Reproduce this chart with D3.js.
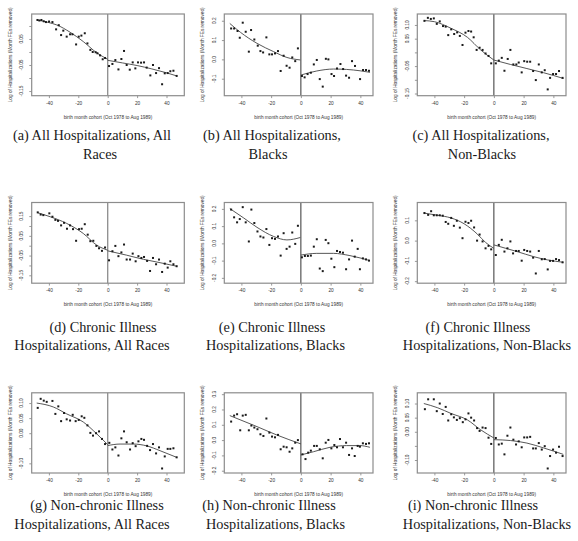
<!DOCTYPE html>
<html><head><meta charset="utf-8">
<script src="https://cdn.jsdelivr.net/npm/d3@7"></script>
<style>body{margin:0;background:#fff}svg{display:block}</style>
</head><body><svg id="c" width="578" height="541"></svg>
<script>
// ---------------- DATA ----------------
const xTickValues = [-40, -20, 0, 20, 40];
const xTitle = "birth month cohort (Oct 1978 to Aug 1989)";
const yTitle = "Log of Hospitalizations (Month FEs removed)";

const captions = [
  ["(a) All Hospitalizations, All", "Races"],
  ["(b) All Hospitalizations,", "Blacks"],
  ["(c) All Hospitalizations,", "Non-Blacks"],
  ["(d) Chronic Illness", "Hospitalizations, All Races"],
  ["(e) Chronic Illness", "Hospitalizations, Blacks"],
  ["(f) Chronic Illness", "Hospitalizations, Non-Blacks"],
  ["(g) Non-chronic Illness", "Hospitalizations, All Races"],
  ["(h) Non-chronic Illness", "Hospitalizations, Blacks"],
  ["(i) Non-chronic Illness", "Hospitalizations, Non-Blacks"]
];

// y domains, ticks and labelled ticks per panel
const yDomainA = [-0.168, 0.146], yTicksA = [-0.15,-0.10,-0.05,0,0.05,0.10], yLabelsA = ["-0.15","-0.05","0.05"];
const yDomainB = [-0.188, 0.235], yTicksB = [-0.1,0,0.1,0.2], yLabelsB = ["-0.1","0.0","0.1","0.2"];
const yDomainC = [-0.158, 0.140], yTicksC = [-0.15,-0.10,-0.05,0,0.05,0.10], yLabelsC = ["-0.15","-0.05","0.05","0.10"];
const yDomainD = [-0.190, 0.219], yTicksD = [-0.15,-0.10,-0.05,0,0.05,0.10,0.15], yLabelsD = ["-0.15","-0.05","0.05","0.15"];
const yDomainE = [-0.231, 0.237], yTicksE = [-0.2,-0.1,0,0.1,0.2], yLabelsE = ["-0.2","-0.1","0.0","0.1","0.2"];
const yDomainF = [-0.210, 0.188], yTicksF = [-0.2,-0.1,0,0.1], yLabelsF = ["-0.2","-0.1","0.0","0.1"];
const yDomainG = [-0.132, 0.134], yTicksG = [-0.10,-0.05,0,0.05,0.10], yLabelsG = ["-0.10","0.00","0.05","0.10"];
const yDomainH = [-0.215, 0.309], yTicksH = [-0.2,-0.1,0,0.1,0.2,0.3], yLabelsH = ["-0.2","-0.1","0.0","0.1","0.2","0.3"];
const yDomainI = [-0.146, 0.138], yTicksI = [-0.10,-0.05,0,0.05,0.10], yLabelsI = ["-0.10","0.00","0.05","0.10"];

// scatter points [cohort month, value]
const pointsA = [[-47.8,0.123],[-46.5,0.121],[-45.1,0.123],[-43.5,0.118],[-42,0.115],[-39.9,0.117],[-37.6,0.115],[-35.1,0.087],[-33.3,0.103],[-31.7,0.065],[-30.2,0.082],[-27.9,0.059],[-25.6,0.068],[-24,0.068],[-21.5,0.029],[-19.7,0.059],[-17.9,0.063],[-15.6,0.072],[-13.8,0.033],[-11.8,0.008],[-10.2,0],[-8.2,-0.001],[-7,-0.005],[-5.2,-0.013],[-3.4,-0.028],[-1.8,-0.023],
  [0.9,-0.054],[3.2,-0.046],[5.2,-0.031],[7.3,-0.067],[9.3,-0.027],[11.1,0.004],[12.9,-0.05],[15,-0.068],[17,-0.04],[18.8,-0.063],[20.6,-0.04],[22.7,-0.041],[24.7,-0.04],[26.5,-0.06],[29,-0.09],[30.8,-0.05],[32.9,-0.081],[34.9,-0.062],[37,-0.124],[38.8,-0.082],[40.8,-0.081],[42.6,-0.074],[44.7,-0.072],[46.9,-0.092]];
const pointsB = [[-46.9,0.16],[-44.9,0.16],[-42.6,0.147],[-41.1,0.112],[-39.1,0.19],[-37.1,0.143],[-35,0.04],[-33.5,0.152],[-31.3,0.103],[-29,0.071],[-27.2,0.043],[-25.4,0.036],[-23.2,0.114],[-21.2,0.026],[-19.4,0.026],[-17.4,0.031],[-15.4,0.043],[-13.6,-0.06],[-11.6,0.019],[-9.6,-0.033],[-7.6,-0.043],[-5.8,0.01],[-3.8,-0.009],[-2,0.057],
  [0.7,-0.086],[2.5,-0.093],[4.5,-0.076],[6.7,-0.069],[8.7,-0.026],[10.7,-0.003],[12.7,-0.102],[14.7,-0.141],[16.8,0.003],[18.5,0],[20.6,-0.076],[22.3,-0.086],[24.3,-0.047],[26.6,-0.024],[28.4,-0.05],[30.4,-0.084],[32.4,-0.095],[34.4,-0.009],[36.4,-0.034],[39.8,-0.102],[41.8,-0.055],[43.8,-0.055],[45.8,-0.059]];
const pointsC = [[-46.7,0.115],[-44.4,0.126],[-42.4,0.122],[-40.4,0.124],[-38.4,0.104],[-36.4,0.113],[-34.2,0.096],[-32.4,0.094],[-30.7,0.063],[-28.7,0.084],[-26.7,0.067],[-24.7,0.073],[-22.9,0.06],[-21.1,0.027],[-19.1,0.072],[-17.1,0.078],[-15.3,0.076],[-13.6,0.055],[-11.6,0.009],[-9.6,0.017],[-7.6,0.009],[-5.6,-0.004],[-3.6,-0.013],[-1.8,-0.04],
  [1.3,-0.04],[3.3,-0.03],[5.3,-0.02],[7.1,-0.067],[9.3,-0.024],[11.1,0.009],[13.1,-0.044],[15.1,-0.044],[16.7,-0.037],[18.7,-0.073],[20.4,-0.032],[22.4,-0.034],[24.4,-0.034],[26.4,-0.068],[28.2,-0.101],[30.2,-0.044],[32.2,-0.073],[34.2,-0.065],[36.2,-0.135],[37.8,-0.093],[39.8,-0.079],[41.8,-0.079],[43.8,-0.068],[46.2,-0.093]];
const pointsD = [[-47.6,0.169],[-45.6,0.158],[-43.8,0.155],[-39.7,0.164],[-37.6,0.147],[-35.6,0.131],[-33.8,0.126],[-31.7,0.103],[-29.7,0.116],[-27.7,0.086],[-25.6,0.103],[-23.6,0.084],[-21.5,0.025],[-19.5,0.084],[-17.7,0.086],[-15.6,0.109],[-13.6,0.056],[-11.8,0.023],[-9.8,0.025],[-7.7,-0.001],[-5.9,-0.013],[-3.9,-0.026],[-1.8,-0.009],
  [0.9,-0.074],[3.2,-0.028],[5.2,-0.001],[7.3,-0.053],[9.3,-0.034],[11.1,0.006],[12.9,-0.07],[15.2,-0.07],[17,-0.04],[19,-0.079],[20.9,-0.053],[22.9,-0.062],[24.7,-0.057],[26.8,-0.077],[28.8,-0.128],[30.8,-0.062],[32.9,-0.094],[34.9,-0.07],[37,-0.133],[38.8,-0.091],[40.8,-0.111],[42.6,-0.079],[44.7,-0.094],[46.9,-0.104]];
const pointsE = [[-46.9,0.196],[-44.9,0.151],[-42.9,0.122],[-41.1,0.141],[-39.1,0.21],[-37.1,0.122],[-35,0.011],[-33.3,0.196],[-31.3,0.118],[-29.2,0.069],[-27.2,0.04],[-25.2,0.034],[-23.2,0.083],[-21.2,-0.009],[-19.4,0.03],[-17.4,0.026],[-15.4,0.04],[-13.6,-0.071],[-11.6,0.059],[-9.6,-0.032],[-7.6,-0.019],[-5.8,0.063],[-3.8,-0.003],[-2,0.102],
  [0.7,-0.081],[2.7,-0.073],[4.7,-0.073],[6.7,-0.071],[8.7,-0.019],[10.7,0.024],[12.7,-0.146],[14.7,-0.161],[16.7,0.02],[18.5,0.001],[20.5,-0.089],[22.5,-0.138],[24.3,-0.044],[26.3,-0.05],[28.3,-0.054],[30.4,-0.15],[32.4,-0.093],[34.4,0.016],[36.2,-0.077],[38.2,-0.032],[39.7,-0.15],[41.7,-0.087],[43.8,-0.093],[45.8,-0.1]];
const pointsF = [[-46.7,0.136],[-44.2,0.127],[-42.2,0.145],[-40.4,0.125],[-38.4,0.125],[-36.4,0.125],[-34.4,0.123],[-32.4,0.092],[-30.7,0.083],[-28.7,0.112],[-26.9,0.073],[-24.9,0.098],[-22.9,0.064],[-21.1,0.012],[-19.1,0.093],[-17.1,0.087],[-15.3,0.098],[-13.3,0.065],[-11.3,0.0],[-9.6,0.03],[-7.6,-0.004],[-5.6,-0.038],[-3.6,-0.026],[-1.8,-0.043],
  [1.3,-0.071],[3.3,-0.021],[5.3,0.004],[7.1,-0.054],[9.1,-0.038],[11.1,-0.004],[12.9,-0.063],[14.9,-0.051],[16.7,-0.051],[18.7,-0.099],[20.4,-0.046],[22.4,-0.051],[24.4,-0.054],[26.4,-0.084],[28.2,-0.162],[30.2,-0.051],[32.2,-0.092],[34.2,-0.091],[36.2,-0.142],[37.8,-0.1],[39.8,-0.1],[41.8,-0.091],[43.8,-0.096],[46.2,-0.107]];
const pointsG = [[-47.6,0.084],[-45.6,0.114],[-43.5,0.108],[-41.5,0.104],[-37.6,0.107],[-35.6,0.064],[-33.6,0.089],[-31.7,0.04],[-29.7,0.067],[-27.9,0.046],[-25.6,0.042],[-23.8,0.061],[-21.8,0.04],[-19.7,0.044],[-17.7,0.056],[-15.9,0.051],[-13.8,0.026],[-11.8,0.001],[-10,-0.008],[-7.9,0],[-5.9,0.006],[-3.9,-0.019],[-1.8,-0.036],
  [1.1,-0.032],[3.2,-0.054],[5.2,-0.047],[7.3,-0.074],[9.3,-0.017],[11.1,0.006],[12.9,-0.03],[15.2,-0.054],[17,-0.033],[19,-0.043],[20.9,-0.027],[22.9,-0.019],[24.7,-0.022],[26.8,-0.042],[28.8,-0.056],[30.8,-0.036],[32.9,-0.067],[34.9,-0.047],[37,-0.117],[38.8,-0.077],[40.8,-0.052],[42.6,-0.052],[44.7,-0.05],[46.9,-0.08]];
const pointsH = [[-46.9,0.121],[-44.9,0.16],[-42.9,0.169],[-40.8,0.064],[-39.1,0.16],[-37.1,0.165],[-35,0.064],[-33.3,0.095],[-31.3,0.082],[-29.2,0.071],[-27.2,0.038],[-25.2,0.027],[-23.2,0.141],[-21.2,0.049],[-19.4,0.023],[-17.4,0.018],[-15.4,0.034],[-13.6,-0.06],[-11.6,-0.043],[-9.6,-0.047],[-7.6,-0.076],[-5.8,-0.054],[-3.8,-0.017],[-2,0.0],
  [1.1,-0.093],[3.1,-0.124],[4.9,-0.082],[6.7,-0.069],[8.9,-0.038],[10.7,-0.038],[12.7,-0.06],[14.7,-0.119],[16.7,-0.017],[18.5,0.001],[20.5,-0.054],[22.5,-0.032],[24.3,-0.047],[26.3,0.007],[28.3,-0.047],[30.4,-0.017],[32.4,-0.097],[34.4,-0.054],[36.2,-0.104],[38.2,-0.038],[39.7,-0.043],[41.7,-0.021],[43.8,-0.025],[45.8,-0.021]];
const pointsI = [[-46.4,0.08],[-44.2,0.115],[-40.4,0.115],[-38.4,0.073],[-36.4,0.10],[-34.4,0.063],[-32.4,0.088],[-30.7,0.04],[-28.7,0.062],[-26.9,0.051],[-24.9,0.042],[-22.9,0.048],[-20.9,0.034],[-19.1,0.044],[-17.1,0.065],[-15.3,0.05],[-13.3,0.04],[-11.3,0.013],[-9.6,0.003],[-7.6,0.015],[-5.6,0.013],[-3.6,-0.021],[-1.8,-0.043],
  [1.3,-0.022],[3.3,-0.045],[5.3,-0.042],[7.1,-0.08],[9.1,-0.014],[11.1,0.015],[13.1,-0.028],[14.9,-0.045],[16.7,-0.034],[18.7,-0.055],[20.4,-0.02],[22.4,-0.02],[24.4,-0.018],[26.4,-0.059],[28.2,-0.059],[30.2,-0.04],[32.2,-0.063],[34.2,-0.051],[36.2,-0.13],[37.8,-0.086],[39.8,-0.063],[41.8,-0.074],[43.8,-0.053],[46.2,-0.086]];

// fitted curves (left and right of the cutoff)
const fitA_L = [[-48,0.123],[-40,0.113],[-34.7,0.104],[-25.6,0.076],[-16.6,0.04],[-7.5,-0.003],[0,-0.028]];
const fitA_R = [[0,-0.032],[10,-0.042],[20,-0.052],[30,-0.065],[40,-0.08],[47,-0.092]];
const fitB_L = [[-47.8,0.186],[-40.6,0.140],[-29.5,0.083],[-18.3,0.04],[-9.4,0.01],[-0.4,-0.003]];
const fitB_R = [[0,-0.081],[10.7,-0.06],[21.9,-0.05],[30.8,-0.052],[39.8,-0.059],[46.5,-0.067]];
const fitC_L = [[-47,0.116],[-40,0.112],[-28.9,0.088],[-17.8,0.055],[-8.9,0.009],[0,-0.028]];
const fitC_R = [[0,-0.028],[11.1,-0.044],[22.2,-0.059],[33.3,-0.074],[46.7,-0.095]];
const fitD_L = [[-47.6,0.167],[-39.2,0.147],[-27.9,0.113],[-16.6,0.062],[-7.5,0.003],[0,-0.023]];
const fitD_R = [[0,-0.026],[12.9,-0.048],[24.3,-0.069],[35.6,-0.086],[46.9,-0.104]];
const fitE_L = [[-47.8,0.202],[-38.4,0.147],[-29.5,0.093],[-18.3,0.04],[-9.4,0.02],[-0.4,0.034]];
const fitE_R = [[0,-0.068],[10.7,-0.058],[21.9,-0.058],[33,-0.071],[46.4,-0.1]];
const fitF_L = [[-47.1,0.136],[-37.8,0.125],[-28.9,0.112],[-20,0.083],[-11.1,0.032],[-5.6,-0.009],[0,-0.038]];
const fitF_R = [[0,-0.021],[8,-0.038],[15.6,-0.054],[26.7,-0.079],[36,-0.095],[46.7,-0.107]];
const fitG_L = [[-48.3,0.10],[-37,0.087],[-27.9,0.064],[-16.6,0.037],[-7.5,-0.002],[0,-0.038]];
const fitG_R = [[0,-0.041],[8.4,-0.036],[17.5,-0.036],[26.5,-0.042],[35.6,-0.058],[46.9,-0.08]];
const fitH_L = [[-47.8,0.16],[-29.5,0.088],[-16.1,0.033],[0,-0.025]];
const fitH_R = [[0,-0.097],[8.5,-0.076],[19.6,-0.047],[30.8,-0.036],[39.7,-0.036],[46.4,-0.047]];
const fitI_L = [[-47.1,0.10],[-37.8,0.085],[-28.9,0.065],[-17.8,0.042],[-8.9,0.007],[0,-0.022]];
const fitI_R = [[0,-0.028],[11.1,-0.031],[22.2,-0.04],[33.3,-0.057],[46.7,-0.08]];

// ---------------- LAYOUT ----------------
const cols = [
  {x0:31.7, x1:184.3, xd:[-51.7,52.1], yTitleX:10,    labOff:10,  vline:"#8c8c8c", vlw:1.3},
  {x0:224.3, x1:373,  xd:[-51.5,48.5], yTitleX:202.7, labOff:9.5, vline:"#333",    vlw:1.0},
  {x0:417.3, x1:566,  xd:[-51.5,48.5], yTitleX:395,   labOff:10,  vline:"#333",    vlw:1.0}
];
const rows = [{y0:14, y1:95.7, cap:[135,154]}, {y0:202.5, y1:283.2, cap:[327,345.5]}, {y0:392.8, y1:473, cap:[505,524.5]}];
const capX = [[92,100],[272,268],[481,482],[103,92],[272,275.5],[478,487],[97,92],[269,275.5],[473,487]];

const panels = [
  {pts:pointsA, fl:fitA_L, fr:fitA_R, yd:yDomainA, yt:yTicksA, yl:yLabelsA},
  {pts:pointsB, fl:fitB_L, fr:fitB_R, yd:yDomainB, yt:yTicksB, yl:yLabelsB},
  {pts:pointsC, fl:fitC_L, fr:fitC_R, yd:yDomainC, yt:yTicksC, yl:yLabelsC},
  {pts:pointsD, fl:fitD_L, fr:fitD_R, yd:yDomainD, yt:yTicksD, yl:yLabelsD},
  {pts:pointsE, fl:fitE_L, fr:fitE_R, yd:yDomainE, yt:yTicksE, yl:yLabelsE},
  {pts:pointsF, fl:fitF_L, fr:fitF_R, yd:yDomainF, yt:yTicksF, yl:yLabelsF},
  {pts:pointsG, fl:fitG_L, fr:fitG_R, yd:yDomainG, yt:yTicksG, yl:yLabelsG},
  {pts:pointsH, fl:fitH_L, fr:fitH_R, yd:yDomainH, yt:yTicksH, yl:yLabelsH},
  {pts:pointsI, fl:fitI_L, fr:fitI_R, yd:yDomainI, yt:yTicksI, yl:yLabelsI}
];

const svg = d3.select("#c");
const smallFont = "Liberation Sans, Arial, sans-serif";
const fs = 4.75;

panels.forEach((p, i) => {
  const col = cols[i % 3], row = rows[Math.floor(i / 3)];
  const g = svg.append("g");
  const x = d3.scaleLinear().domain(col.xd).range([col.x0, col.x1]);
  const y = d3.scaleLinear().domain(p.yd).range([row.y1, row.y0]);

  // x axis
  const xa = g.append("g").attr("transform", `translate(0,${row.y1})`)
    .call(d3.axisBottom(x).tickValues(xTickValues).tickSize(2.4).tickPadding(3.2).tickFormat(d => String(d)));
  xa.select(".domain").remove();
  xa.selectAll(".tick line").attr("stroke", "#555").attr("stroke-width", 0.6);
  xa.selectAll(".tick text").attr("font-family", smallFont).attr("font-size", fs).attr("fill", "#333");

  // y axis (ticks only, labels drawn rotated)
  const ya = g.append("g").attr("transform", `translate(${col.x0},0)`)
    .call(d3.axisLeft(y).tickValues(p.yt).tickSize(2.4).tickFormat(""));
  ya.select(".domain").remove();
  ya.selectAll(".tick line").attr("stroke", "#555").attr("stroke-width", 0.6);
  g.selectAll(".ylab").data(p.yl).join("text")
    .attr("transform", d => `translate(${col.x0 - col.labOff},${y(+d)}) rotate(-90)`)
    .attr("text-anchor", "middle").attr("dy", "0.35em")
    .attr("font-family", smallFont).attr("font-size", fs).attr("fill", "#333")
    .text(d => d);

  // titles
  g.append("text").attr("x", (col.x0 + col.x1) / 2).attr("y", row.y1 + 21.5)
    .attr("text-anchor", "middle").attr("dy", "0.35em")
    .attr("font-family", smallFont).attr("font-size", fs).attr("fill", "#333").text(xTitle);
  g.append("text")
    .attr("transform", `translate(${col.yTitleX},${(row.y0 + row.y1) / 2}) rotate(-90)`)
    .attr("text-anchor", "middle").attr("dy", "0.35em")
    .attr("font-family", smallFont).attr("font-size", fs).attr("fill", "#333").text(yTitle);

  // cutoff line
  g.append("line").attr("x1", x(0)).attr("x2", x(0)).attr("y1", row.y0).attr("y2", row.y1)
    .attr("stroke", col.vline).attr("stroke-width", col.vlw);

  // fitted curves
  const line = d3.line().x(d => x(d[0])).y(d => y(d[1])).curve(d3.curveMonotoneX);
  [p.fl, p.fr].forEach(f => g.append("path").attr("d", line(f))
    .attr("fill", "none").attr("stroke", "#444").attr("stroke-width", 0.9));

  // points
  g.selectAll(".pt").data(p.pts).join("rect")
    .attr("x", d => x(d[0]) - 1).attr("y", d => y(d[1]) - 1)
    .attr("width", 2).attr("height", 2).attr("fill", "#1a1a1a");

  // box
  g.append("rect").attr("x", col.x0).attr("y", row.y0)
    .attr("width", col.x1 - col.x0).attr("height", row.y1 - row.y0)
    .attr("fill", "none").attr("stroke", "#8c8c8c").attr("stroke-width", 1.2);

  // caption
  captions[i].forEach((t, k) => {
    svg.append("text").attr("x", capX[i][k]).attr("y", row.cap[k]).attr("dy", "0.33em")
      .attr("text-anchor", "middle")
      .attr("font-family", "Liberation Serif, Times New Roman, serif").attr("font-size", 14.3)
      .attr("fill", "#1a1a1a").text(t);
  });
});
</script></body></html>
